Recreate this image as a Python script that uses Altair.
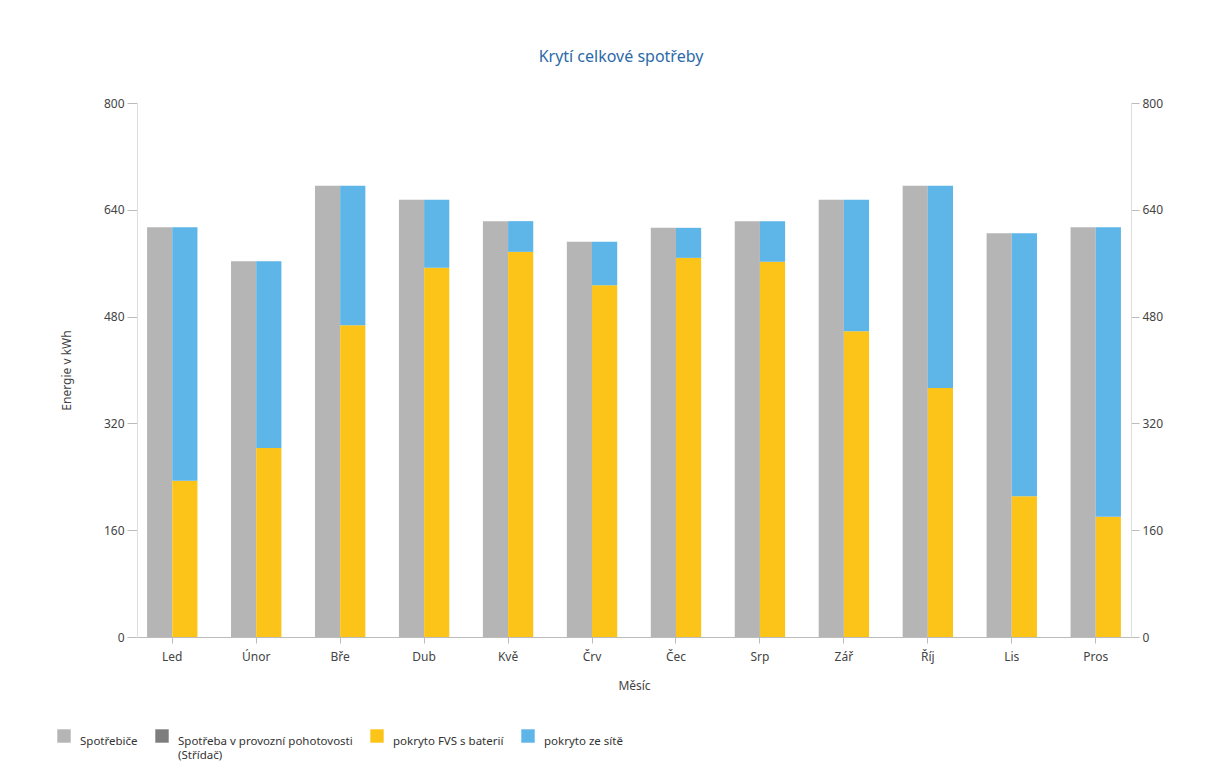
import altair as alt
import pandas as pd

months = ["Led", "Únor", "Bře", "Dub", "Kvě", "Črv", "Čec", "Srp", "Zář", "Říj", "Lis", "Pros"]
spotrebice = [614, 563, 676, 655, 623, 592, 613, 623, 655, 676, 605, 614]
pohotovost = [0, 0, 0, 0, 0, 0, 0, 0, 0, 0, 0, 0]
fvs = [234, 283, 467, 553, 577, 527, 568, 562, 458, 373, 211, 180]
sit = [380, 280, 209, 102, 46, 65, 45, 61, 197, 303, 394, 434]

series = ["Spotřebiče", "Spotřeba v provozní pohotovosti (Střídač)", "pokryto FVS s baterií", "pokryto ze sítě"]
colors = ["#b5b5b5", "#7d7d7d", "#fcc419", "#5db5e8"]

rows = []
for i, m in enumerate(months):
    rows.append(dict(month=m, grp="a", series=series[0], value=spotrebice[i], order=0))
    rows.append(dict(month=m, grp="a", series=series[1], value=pohotovost[i], order=1))
    rows.append(dict(month=m, grp="b", series=series[2], value=fvs[i], order=0))
    rows.append(dict(month=m, grp="b", series=series[3], value=sit[i], order=1))
df = pd.DataFrame(rows)

font = "Noto Sans"
yscale = alt.Scale(domain=[0, 800])

base = alt.Chart(df).encode(
    x=alt.X("month:N", sort=months, title="Měsíc",
            scale=alt.Scale(paddingInner=0.4, paddingOuter=0.12),
            axis=alt.Axis(labelAngle=0, domainColor="#bbbbbb", tickColor="#bbbbbb",
                          tickSize=6, labelPadding=8, titlePadding=18,
                          labelColor="#444444", titleColor="#444444",
                          labelFontSize=12, titleFontSize=12, titleFontWeight="normal")),
    xOffset=alt.XOffset("grp:N", scale=alt.Scale(paddingInner=0, paddingOuter=0)),
    order=alt.Order("order:Q"),
)

left = base.mark_bar().encode(
    y=alt.Y("value:Q", stack="zero", scale=yscale, title="Energie v kWh",
            axis=alt.Axis(values=[0, 160, 320, 480, 640, 800], grid=False,
                          domainColor="#dddddd", tickColor="#bbbbbb", tickSize=10,
                          labelColor="#444444", titleColor="#444444",
                          labelFontSize=12, titleFontSize=12, titleFontWeight="normal",
                          titlePadding=30, labelPadding=3)),
    color=alt.Color("series:N", scale=alt.Scale(domain=series, range=colors), title=None,
                    legend=alt.Legend(orient="none", legendX=-80, legendY=626,
                                      direction="horizontal", columns=4,
                                      symbolType="square", symbolSize=180,
                                      symbolStrokeWidth=0, columnPadding=17,
                                      labelFontSize=11.5, labelColor="#333333",
                                      labelLimit=300, labelBaseline="top", labelOffset=9,
                                      labelExpr="datum.label == 'Spotřeba v provozní pohotovosti (Střídač)' ? ['Spotřeba v provozní pohotovosti', '(Střídač)'] : [datum.label, ' ']")),
)

right = base.mark_bar(opacity=0).encode(
    y=alt.Y("value:Q", stack="zero", scale=yscale, title=None,
            axis=alt.Axis(orient="right", values=[0, 160, 320, 480, 640, 800], grid=False,
                          domainColor="#dddddd", tickColor="#bbbbbb", tickSize=8,
                          labelColor="#444444", labelFontSize=12, labelPadding=3)),
)

chart = alt.layer(left, right).resolve_axis(y="independent").properties(
    width=994, height=534,
    title=alt.TitleParams("Krytí celkové spotřeby", color="#2c6aa8", fontSize=16,
                          fontWeight="normal", font=font, offset=32, anchor="middle", dx=-13),
    autosize=alt.AutoSizeParams(type="none"),
    padding={"left": 137, "top": 103, "right": 100, "bottom": 145},
).configure(font=font).configure_view(stroke=None)

chart.save("out.html", embed_options={"renderer": "svg", "actions": False})
